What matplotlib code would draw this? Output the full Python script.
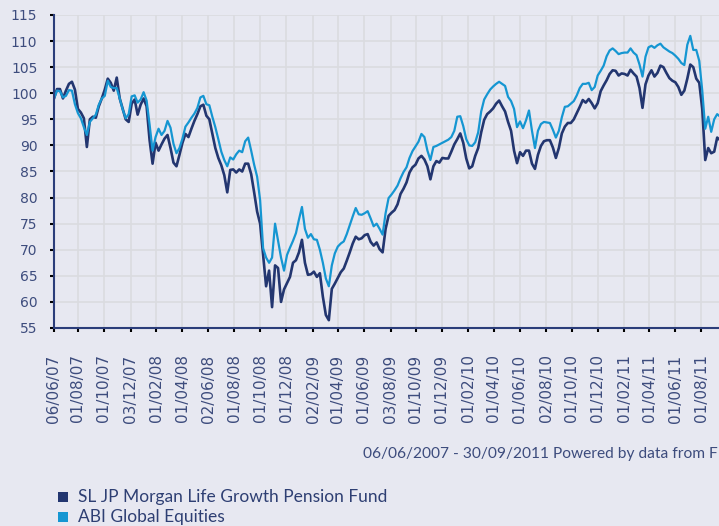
import matplotlib
matplotlib.use("Agg")
import matplotlib.pyplot as plt
import matplotlib.dates as mdates
from matplotlib.patches import Rectangle
import pandas as pd

# ---------------- data ----------------
start_date = "2007-06-06"
n_weeks = 226
dates = pd.date_range(start_date, periods=n_weeks, freq="7D")

sl_fund = [
    99, 100.8, 100.8, 99, 100.5, 101.8, 102.2, 100.7, 97, 96.3,
    95.2, 89.7, 95, 95.5, 95.3, 97.5, 99, 100.7, 102.8, 102,
    100.5, 103, 99, 97, 95, 94.5, 98, 98.8, 95.9, 97.8,
    99, 97.5, 91, 86.5, 90.5, 89, 90.2, 91.3, 92, 89.5,
    86.7, 86, 88.2, 90.5, 92.2, 91.6, 93.2, 94.7, 96, 97.5,
    97.8, 95.7, 95, 92.2, 89.5, 87.6, 86.2, 84.3, 81, 85.3,
    85.4, 84.8, 85.4, 85, 86.5, 86.5, 84.5, 81, 77.3, 75,
    69, 63, 66, 59, 67, 66.5, 60, 62.4, 63.6, 64.8,
    67.5, 68, 69.5, 71.9, 67.5, 65.2, 65.3, 65.8, 64.8, 65.5,
    61, 57.5, 56.5, 62.5, 63.5, 64.6, 65.7, 66.4, 67.9, 69.5,
    71.2, 72.5, 72, 72.2, 72.8, 73, 71.5, 70.8, 71.4, 70.1,
    69.5, 74, 76.5, 77.1, 77.6, 78.7, 80.7, 81.7, 82.9, 84.8,
    85.8, 86.3, 87.5, 88, 87.3, 86, 83.5, 86, 87, 86.7,
    87.6, 87.5, 87.5, 88.8, 90.2, 91.2, 92.3, 90.5, 87.5, 85.6,
    86, 88, 89.5, 92.5, 94.9, 96, 96.5, 97.1, 98, 98.6,
    97.5, 96.5, 94.5, 92.8, 89, 86.6, 88.7, 88, 89, 89,
    86.5, 85.5, 88.2, 89.9, 90.8, 91, 91, 89.6, 87.6, 89.5,
    92.3, 93.6, 94.3, 94.3, 95, 96.2, 97.4, 98.7, 98.2, 98.9,
    98.1, 97.1, 98.1, 100.4, 101.5, 102.5, 103.7, 104.4, 104.3, 103.4,
    103.8, 103.7, 103.4, 104.5, 103.8, 103.2, 101, 97.2, 101.7, 103.4,
    104.4, 103.2, 103.9, 105.3, 105, 103.9, 102.9, 102.4, 102.1, 101.2,
    99.7, 100.5, 102.8, 105.5, 105, 102.8, 102, 97, 87.2, 89.5,
    88.5, 88.8, 91.5, 91, 89, 90,
]

abi_equities = [
    99, 100.5, 100.4, 99.2, 99.5, 100.6, 100.5, 97.9, 96.2, 95.2,
    93.5, 92, 94.5, 95.2, 95.9, 97.8, 99, 99.5, 102.4, 101.2,
    101, 101, 99, 96.9, 95.2, 96, 99.4, 99.6, 98.2, 98.8,
    100.2, 98.6, 94, 89, 91.6, 93.2, 92, 92.8, 94.7, 93.4,
    90.3, 88.5, 89.5, 91.3, 93.6, 94.4, 95.3, 96.1, 97.2, 99.2,
    99.5, 97.9, 97.7, 95.5, 93.5, 91.2, 88.8, 87.2, 86, 87.7,
    87.3, 88.3, 89, 88.7, 90.8, 91.5, 89, 86.3, 84, 79.5,
    70.3, 68.5, 67.5, 68.5, 75, 71.8, 68.5, 66, 69, 70.4,
    71.7, 73.2, 75.8, 78.2, 74, 72.3, 73, 72, 71.9, 70,
    67.5, 64.5, 63, 67, 69.3, 70.6, 71.2, 71.6, 73, 74.7,
    76.4, 78, 76.8, 76.7, 77, 77.4, 76, 74.5, 75, 74,
    72.9, 77, 79.9, 80.6, 81.4, 82.3, 83.7, 84.9, 85.8, 87.6,
    88.9, 89.8, 90.7, 92.2, 91.6, 89, 87.2, 89.7, 89.9, 90.2,
    90.5, 90.8, 91.1, 91.6, 92.8, 95.5, 95.6, 93.7, 91.2, 90,
    89.9, 90.6, 92.5, 96.5, 98.8, 99.8, 100.7, 101.3, 101.8, 102.2,
    101.8, 101.4, 99.3, 98.5, 97, 93.5, 94.6, 93.3, 94.8, 96.7,
    92.8, 89.5, 92.8, 94.1, 94.5, 94.4, 94.3, 93, 91.5, 92.8,
    95.4, 97.4, 97.5, 98, 98.5, 99.6, 101, 101.8, 101.8, 102,
    100.6, 101.2, 103.4, 104.3, 105.3, 107.1, 108.2, 108.6, 108.1, 107.5,
    107.7, 107.8, 107.8, 108.6, 107.8, 107.3, 105.5, 103.2, 107, 108.8,
    109.1, 108.7, 109.2, 109.5, 108.8, 108.4, 108, 107.7, 107.2, 106.6,
    105.8, 105.4, 109.3, 111, 108.3, 108.3, 106.2, 100.5, 93.2, 95.5,
    92.6, 95, 96, 95.5, 95, 96,
]

tick_labels = [
    "06/06/07", "01/08/07", "01/10/07", "03/12/07", "01/02/08", "01/04/08",
    "02/06/08", "01/08/08", "01/10/08", "01/12/08", "02/02/09", "01/04/09",
    "01/06/09", "03/08/09", "01/10/09", "01/12/09", "01/02/10", "01/04/10",
    "01/06/10", "02/08/10", "01/10/10", "01/12/10", "01/02/11", "01/04/11",
    "01/06/11", "01/08/11", "30/09/11",
]
y_ticks = [55, 60, 65, 70, 75, 80, 85, 90, 95, 100, 105, 110, 115]

series_names = ["SL JP Morgan Life Growth Pension Fund", "ABI Global Equities"]
footer = "06/06/2007 - 30/09/2011 Powered by data from FE"

# ---------------- style ----------------
BG = "#e7e8f1"
GRID = "#dadbe0"
NAVY = "#233670"
CYAN = "#1596d2"
SPINE = "#2b3d7a"
TXT = "#3d4c7d"

W, H = 719, 526
fig = plt.figure(figsize=(W / 100, H / 100), dpi=100, facecolor=BG)
ax = fig.add_axes([54 / W, 1 - 328 / H, 673 / W, 313 / H])
ax.set_facecolor(BG)

ax.plot(dates, sl_fund, color=NAVY, lw=1.9, solid_joinstyle="round", zorder=3)
ax.plot(dates, abi_equities, color=CYAN, lw=1.6, solid_joinstyle="round", zorder=3)

tick_dates = pd.to_datetime(tick_labels, format="%d/%m/%y")
ax.set_xlim(pd.Timestamp("2007-06-06"), pd.Timestamp("2011-09-30"))
ax.set_xticks(tick_dates)
ax.set_xticklabels(tick_labels, rotation=90, fontsize=11, color=TXT,
                   fontfamily="DejaVu Sans")
ax.set_ylim(55, 115)
ax.set_yticks(y_ticks)
ax.set_yticklabels([str(v) for v in y_ticks], fontsize=10, color=TXT,
                   fontfamily="DejaVu Sans")

ax.grid(True, color=GRID, lw=1.2, zorder=0)
ax.set_axisbelow(True)
for s in ["top", "right"]:
    ax.spines[s].set_visible(False)
for s in ["left", "bottom"]:
    ax.spines[s].set_color(SPINE)
    ax.spines[s].set_linewidth(1.5)
    ax.spines[s].set_zorder(4)
ax.tick_params(axis="x", direction="out", length=3, width=1.5, color="black", pad=16)
ax.tick_params(axis="y", direction="out", length=3, width=1.5, color="black", pad=9)

fig.text(363 / W, 1 - 458 / H, footer, ha="left", va="baseline",
         fontsize=11.2, color=TXT, fontfamily="Lato")

legend_rows = [(497, NAVY), (517, CYAN)]
for (yc, col), name in zip(legend_rows, series_names):
    fig.add_artist(Rectangle((58 / W, 1 - (yc + 5) / H), 10 / W, 10 / H,
                             transform=fig.transFigure, color=col, lw=0))
    fig.text(78 / W, 1 - yc / H, name, ha="left", va="center",
             fontsize=12.5, color="#2e3f73", fontfamily="Lato")

fig.savefig("out.png", dpi=100, facecolor=BG)
